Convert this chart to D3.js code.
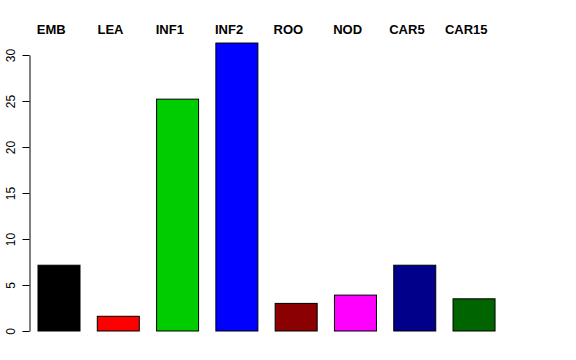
<!DOCTYPE html>
<html><head><meta charset="utf-8">
<script src="https://cdn.jsdelivr.net/npm/d3@7/dist/d3.min.js"></script>
<style>body{margin:0;background:#fff}svg{display:block}</style>
</head><body>
<script>
const categories = ["EMB","LEA","INF1","INF2","ROO","NOD","CAR5","CAR15"];
const values = [7.15, 1.6, 25.2, 31.3, 3.0, 3.9, 7.15, 3.5];
const colors = ["#000000","#ff0000","#00cd00","#0000ff","#8b0000","#ff00ff","#00008b","#006400"];
const yTicks = [0,5,10,15,20,25,30];

const W = 576, H = 360;
const svg = d3.select("body").append("svg").attr("width", W).attr("height", H);

const x = d3.scaleBand().domain(categories).range([25.64, 506.4]).paddingInner(0.2916).paddingOuter(0.2);
const y = d3.scaleLinear().domain([0, 30]).range([331, 55]);

svg.selectAll("rect.bar").data(categories).enter().append("rect")
  .attr("x", d => x(d) + 0.5)
  .attr("y", (d,i) => y(values[i]))
  .attr("width", x.bandwidth())
  .attr("height", (d,i) => y(0) - y(values[i]))
  .attr("fill", (d,i) => colors[i])
  .attr("stroke", "#000").attr("stroke-width", 1);

const axis = d3.axisLeft(y).tickValues(yTicks).tickSize(7).tickPadding(0).tickSizeOuter(0);
const g = svg.append("g").attr("transform", "translate(29.5,0)").call(axis);
g.select(".domain").attr("stroke", "#000");
g.selectAll(".tick line").attr("stroke", "#000");
g.selectAll(".tick text").remove();
g.selectAll(".tick").append("text")
  .attr("transform", "translate(-15,0) rotate(-90)")
  .attr("text-anchor", "middle")
  .attr("fill", "#000")
  .style("font-family", "Liberation Sans, Arial, sans-serif")
  .style("font-size", "12px")
  .text(d => d);

svg.selectAll("text.lab").data(categories).enter().append("text")
  .attr("x", d => x(d) + x.bandwidth()/2 - 7.3)
  .attr("y", 34)
  .attr("text-anchor", "middle")
  .style("font-family", "Liberation Sans, Arial, sans-serif")
  .style("font-weight", "bold")
  .style("font-size", "13px")
  .text(d => d);
</script>
</body></html>
